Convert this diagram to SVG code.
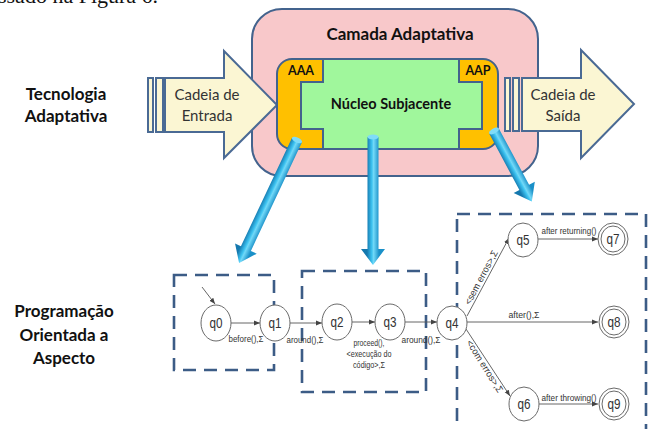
<svg xmlns="http://www.w3.org/2000/svg" width="653" height="429" viewBox="0 0 653 429">
<defs>
<style>
.bd{font-family:Lato,"Open Sans","Liberation Sans",sans-serif;font-weight:bold;fill:#111;text-anchor:middle}
.rg{font-family:Lato,"Open Sans","Liberation Sans",sans-serif;fill:#333;text-anchor:middle;font-size:15px}
.st{fill:#fff;stroke:#6a6a6a;stroke-width:1}
.sl{font-family:"Liberation Sans",Arial,sans-serif;font-size:14px;fill:#333;text-anchor:middle}
.tl{font-family:"Liberation Sans",Arial,sans-serif;font-size:9.5px;fill:#333;text-anchor:middle}
.tr{fill:none;stroke:#555;stroke-width:0.9;marker-end:url(#ah)}
.box{fill:none;stroke:#3C5C86;stroke-width:2.6;stroke-dasharray:13 8}
.ol{stroke:#43638D;stroke-width:2}
.cream{fill:#FBF6D3;stroke:#4A6A94;stroke-width:2}
</style>
<marker id="ah" viewBox="0 0 10 10" refX="10" refY="5" markerWidth="6" markerHeight="6" orient="auto" markerUnits="userSpaceOnUse">
<path d="M0,1 L10,5 L0,9 z" fill="#444"/>
</marker>
<linearGradient id="bl" gradientUnits="userSpaceOnUse" x1="-6" y1="0" x2="6" y2="0">
<stop offset="0" stop-color="#1478AE"/>
<stop offset="0.4" stop-color="#3CC2F0"/>
<stop offset="0.55" stop-color="#72D9F8"/>
<stop offset="1" stop-color="#1A90C8"/>
</linearGradient>
</defs>
<rect width="653" height="429" fill="#fff"/>
<text x="-2" y="3" font-family="'Liberation Serif',serif" font-size="22" fill="#111">ssado na Figura 6.</text>

<g id="labels">
<text class="bd" font-size="17" x="66" y="100">Tecnologia</text>
<text class="bd" font-size="17" x="66" y="122">Adaptativa</text>
<text class="bd" font-size="17" x="64" y="317">Programação</text>
<text class="bd" font-size="17" x="64" y="341">Orientada a</text>
<text class="bd" font-size="17" x="64" y="364">Aspecto</text>
</g>

<g id="camada">
<rect x="252" y="9" width="286" height="167" rx="30" fill="#F8C8CA" class="ol"/>
<text class="bd" font-size="17" x="400" y="40">Camada Adaptativa</text>
</g>

<g id="entrada">
<rect x="148" y="78" width="5" height="54" class="cream"/>
<rect x="156" y="78" width="7" height="54" class="cream"/>
<polygon points="165,78 224,78 224,51 277,105 224,158 224,132 165,132" class="cream"/>
<text class="rg" x="207" y="100">Cadeia de</text>
<text class="rg" x="207" y="121">Entrada</text>
</g>

<g id="saida">
<rect x="505" y="78" width="5" height="53" class="cream"/>
<rect x="513" y="78" width="6" height="53" class="cream"/>
<polygon points="522,78 581,78 581,50 634,104 581,158 581,131 522,131" class="cream"/>
<text class="rg" x="563" y="100">Cadeia de</text>
<text class="rg" x="563" y="121">Saída</text>
</g>

<g id="nucleo">
<rect x="277" y="59" width="221" height="90" rx="15" fill="#FFC000"/>
<polygon points="323,59 459,59 459,82 482,82 482,129 459,129 459,149 323,149 323,129 301,129 301,82 323,82" fill="#A0F79C" class="ol"/>
<rect x="277" y="59" width="221" height="90" rx="15" fill="none" class="ol"/>
<text class="bd" font-size="12.5" x="301" y="75">AAA</text>
<text class="bd" font-size="12.5" x="478" y="75">AAP</text>
<text class="bd" font-size="14.5" x="391" y="109">Núcleo Subjacente</text>
</g>

<g id="blue-arrows">
<g transform="translate(297,140) rotate(25.2)">
<path d="M-5.5,0 L5.5,0 L5.5,120 L12,120 L0,136 L-12,120 L-5.5,120 Z" fill="url(#bl)"/>
<ellipse cx="0" cy="0" rx="5.5" ry="2.5" fill="#7FDCF8"/>
</g>
<g transform="translate(373,137)">
<path d="M-5.5,0 L5.5,0 L5.5,112 L12,112 L0,128 L-12,112 L-5.5,112 Z" fill="url(#bl)"/>
<ellipse cx="0" cy="0" rx="5.5" ry="2.5" fill="#7FDCF8"/>
</g>
<g transform="translate(494,131) rotate(-28.2)">
<path d="M-5.5,0 L5.5,0 L5.5,64 L12,64 L0,80 L-12,64 L-5.5,64 Z" fill="url(#bl)"/>
<ellipse cx="0" cy="0" rx="5.5" ry="2.5" fill="#7FDCF8"/>
</g>
</g>

<g id="aspect-boxes">
<rect x="174" y="275" width="100" height="95" class="box"/>
<rect x="302" y="271" width="124" height="121" class="box"/>
<rect x="457" y="214" width="189" height="240" class="box"/>
</g>

<g id="connectors">
<line x1="202" y1="287" x2="215" y2="304" class="tr"/>
<line x1="231" y1="323" x2="260" y2="323" class="tr"/>
<line x1="290" y1="323" x2="322" y2="323" class="tr"/>
<line x1="352" y1="322" x2="375" y2="322" class="tr"/>
<line x1="405" y1="322" x2="437" y2="322" class="tr"/>
<line x1="467" y1="316" x2="509" y2="238" class="tr"/>
<line x1="467" y1="322" x2="598" y2="322" class="tr"/>
<line x1="466" y1="329" x2="510" y2="396" class="tr"/>
<line x1="538" y1="239" x2="598" y2="239" class="tr"/>
<line x1="538" y1="404" x2="598" y2="404" class="tr"/>
<text class="tl" x="246" y="342" textLength="35" lengthAdjust="spacingAndGlyphs">before(),Σ</text>
<text class="tl" x="305" y="343" textLength="37" lengthAdjust="spacingAndGlyphs">around(),Σ</text>
<text class="tl" x="369" y="346" textLength="31" lengthAdjust="spacingAndGlyphs">proceed(),</text>
<text class="tl" x="369" y="357" textLength="45" lengthAdjust="spacingAndGlyphs">&lt;execução do</text>
<text class="tl" x="369" y="368" textLength="32" lengthAdjust="spacingAndGlyphs">código&gt;,Σ</text>
<text class="tl" x="421" y="343" textLength="39" lengthAdjust="spacingAndGlyphs">around(),Σ</text>
<text class="tl" x="524" y="318" textLength="31" lengthAdjust="spacingAndGlyphs">after(),Σ</text>
<text class="tl" x="569" y="234" textLength="55" lengthAdjust="spacingAndGlyphs">after returning()</text>
<text class="tl" x="569" y="401" textLength="55" lengthAdjust="spacingAndGlyphs">after throwing()</text>
<text class="tl" transform="translate(484,279) rotate(-62)" textLength="60" lengthAdjust="spacingAndGlyphs">&lt;sem erros&gt;,Σ</text>
<text class="tl" transform="translate(482,368) rotate(58)" textLength="60" lengthAdjust="spacingAndGlyphs">&lt;com erros&gt;,Σ</text>
</g>

<g id="q0"><ellipse cx="216" cy="323" rx="15" ry="18" class="st"/><text class="sl" x="216" y="328" textLength="13" lengthAdjust="spacingAndGlyphs">q0</text></g>
<g id="q1"><ellipse cx="275" cy="323" rx="15" ry="18" class="st"/><text class="sl" x="275" y="328" textLength="13" lengthAdjust="spacingAndGlyphs">q1</text></g>
<g id="q2"><ellipse cx="337" cy="322" rx="15" ry="18" class="st"/><text class="sl" x="337" y="327" textLength="13" lengthAdjust="spacingAndGlyphs">q2</text></g>
<g id="q3"><ellipse cx="390" cy="322" rx="15" ry="18" class="st"/><text class="sl" x="390" y="327" textLength="13" lengthAdjust="spacingAndGlyphs">q3</text></g>
<g id="q4"><ellipse cx="452" cy="323" rx="15" ry="17" class="st"/><text class="sl" x="452" y="328" textLength="13" lengthAdjust="spacingAndGlyphs">q4</text></g>
<g id="q5"><ellipse cx="523" cy="240" rx="15" ry="17" class="st"/><text class="sl" x="523" y="245" textLength="13" lengthAdjust="spacingAndGlyphs">q5</text></g>
<g id="q6"><ellipse cx="524" cy="404" rx="15" ry="17" class="st"/><text class="sl" x="524" y="409" textLength="13" lengthAdjust="spacingAndGlyphs">q6</text></g>
<g id="q7"><ellipse cx="613" cy="239" rx="15" ry="16" class="st"/><ellipse cx="613" cy="239" rx="12" ry="13" class="st"/><text class="sl" x="613" y="244" textLength="13" lengthAdjust="spacingAndGlyphs">q7</text></g>
<g id="q8"><ellipse cx="614" cy="322" rx="15" ry="16" class="st"/><ellipse cx="614" cy="322" rx="12" ry="13" class="st"/><text class="sl" x="614" y="327" textLength="13" lengthAdjust="spacingAndGlyphs">q8</text></g>
<g id="q9"><ellipse cx="614" cy="404" rx="15" ry="16" class="st"/><ellipse cx="614" cy="404" rx="12" ry="13" class="st"/><text class="sl" x="614" y="409" textLength="13" lengthAdjust="spacingAndGlyphs">q9</text></g>
</svg>
